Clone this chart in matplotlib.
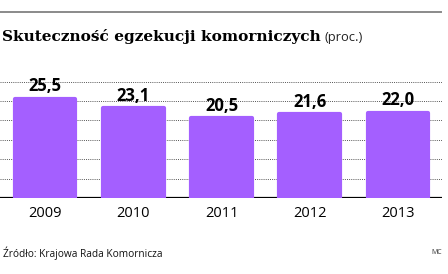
import matplotlib
matplotlib.use("Agg")
import matplotlib.pyplot as plt
from matplotlib.lines import Line2D

years = ["2009", "2010", "2011", "2012", "2013"]
values = [25.5, 23.1, 20.5, 21.6, 22.0]
labels = ["25,5", "23,1", "20,5", "21,6", "22,0"]
grid_ticks = [5, 10, 15, 20, 25, 30]

BAR = "#A45FFF"

fig = plt.figure(figsize=(4.48, 2.74), dpi=100)
ax = fig.add_axes([0.0, 0.277, 0.987, 0.4255])

x = list(range(len(years)))
ax.bar(x, values, width=0.69, color=BAR, edgecolor=BAR, linewidth=3,
       joinstyle="round", zorder=3)

for t in grid_ticks:
    ax.axhline(t, color="#555555", linestyle=(0, (1, 1.2)), linewidth=0.7, zorder=1)
ax.axhline(0, color="black", linewidth=1.6, zorder=2)

for xi, v, lab in zip(x, values, labels):
    ax.annotate(lab, (xi, v), xytext=(0, 5.5), textcoords="offset points",
                ha="center", va="baseline", fontsize=12, fontweight="bold",
                family="Open Sans", color="black", zorder=5)

ax.set_xlim(-0.51, 4.5)
ax.set_ylim(0, 30)
ax.set_xticks(x)
ax.set_xticklabels(years, family="Open Sans", fontsize=10.5, fontweight="medium")
ax.tick_params(axis="x", length=0, pad=6)
ax.set_yticks([])
for s in ax.spines.values():
    s.set_visible(False)
ax.patch.set_visible(False)

# top rule
fig.add_artist(Line2D([0.0, 0.984], [1 - 12 / 274, 1 - 12 / 274],
                      color="#8a8a8a", linewidth=1.4, transform=fig.transFigure))

t1 = fig.text(0.005, 1 - 41 / 274, "Skuteczność egzekucji komorniczych",
              family="DejaVu Serif", fontweight="bold", fontsize=11.1,
              va="baseline", ha="left")
fig.canvas.draw()
bb = t1.get_window_extent()
fig.text(bb.x1 / fig.bbox.width + 0.008, 1 - 41 / 274, "(proc.)",
         family="Open Sans", fontsize=9.3, va="baseline", ha="left", color="#222222")

fig.text(0.007, 1 - 253 / 274, "Źródło: Krajowa Rada Komornicza",
         family="Open Sans", fontsize=7.3, va="center", ha="left", color="#111111")
fig.text(0.975, 1 - 253 / 274, "MC", family="Open Sans", fontsize=5,
         va="center", ha="center", color="#333333")

fig.savefig("out.png", dpi=100)
